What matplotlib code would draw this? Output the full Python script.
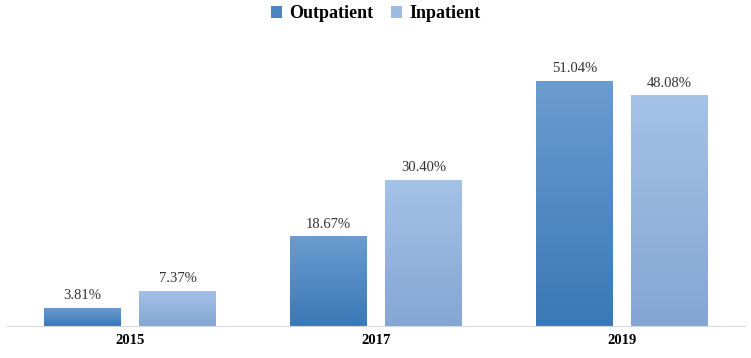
import matplotlib
matplotlib.use("Agg")
import matplotlib.pyplot as plt
import numpy as np
from matplotlib.colors import LinearSegmentedColormap
from matplotlib.patches import Patch

years = ["2015", "2017", "2019"]
outpatient = [3.81, 18.67, 51.04]
inpatient = [7.37, 30.40, 48.08]

plt.rcParams['font.family'] = ['Liberation Serif', 'DejaVu Serif']

fig = plt.figure(figsize=(7.51, 3.58), dpi=100)
ax = fig.add_axes([7 / 751, 32 / 358, 738 / 751, 286 / 358])

x = np.arange(len(years))
w = 0.313
gap = 0.073

out_cmap = LinearSegmentedColormap.from_list("out", ["#3b78b7", "#6b9ccf"])
in_cmap = LinearSegmentedColormap.from_list("in", ["#84a6d4", "#a5c2e7"])

ymax = 59.6
grad = np.linspace(0, 1, 256).reshape(-1, 1)


def gradient_bars(xs, vals, cmap):
    bars = ax.bar(xs, vals, w, color="none", edgecolor="none")
    for b, v in zip(bars, vals):
        x0 = b.get_x()
        im = ax.imshow(grad, cmap=cmap, origin="lower", aspect="auto",
                       extent=[x0, x0 + w, 0, v], zorder=2)
        im.set_clip_path(b)
    return bars


b1 = gradient_bars(x - (w + gap) / 2, outpatient, out_cmap)
b2 = gradient_bars(x + (w + gap) / 2, inpatient, in_cmap)

for b, v in list(zip(b1, outpatient)) + list(zip(b2, inpatient)):
    ax.text(b.get_x() + w / 2, v + 1.2, f"{v:.2f}%", ha="center", va="bottom",
            fontsize=10.5, color="#333333")

ax.set_xlim(-0.5, 2.5)
ax.set_ylim(0, ymax)
ax.set_xticks(x)
ax.set_xticklabels(years, fontsize=10.5, fontweight="bold")
ax.tick_params(axis="x", length=0, pad=6)
ax.set_yticks([])
for s in ["top", "right", "left"]:
    ax.spines[s].set_visible(False)
ax.spines["bottom"].set_color("#d9d9d9")

handles = [Patch(facecolor="#4a85c0"), Patch(facecolor="#9dbbe3")]
fig.legend(handles, ["Outpatient", "Inpatient"], loc="center",
           bbox_to_anchor=(0.5, 1 - 14 / 358), ncol=2, frameon=False,
           prop={"size": 13, "weight": "bold"}, handlelength=0.6,
           handleheight=0.6, handletextpad=0.4, columnspacing=1.0)

fig.savefig("out.png", dpi=100)
